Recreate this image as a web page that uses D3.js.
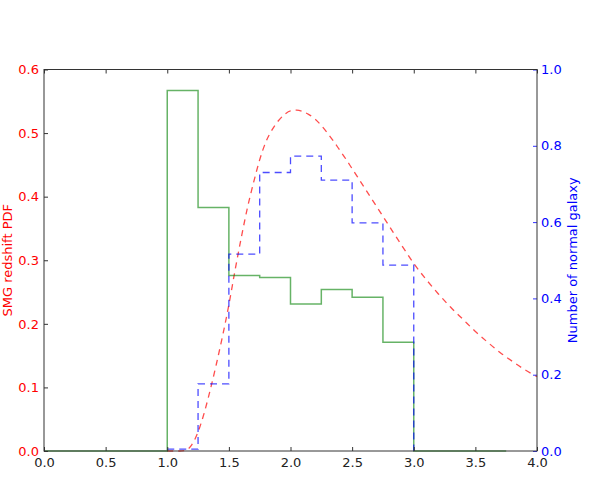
<!DOCTYPE html>
<html>
<head>
<meta charset="utf-8">
<script src="https://cdn.jsdelivr.net/npm/d3@7"></script>
<style>
  body { margin: 0; background: #fff; }
  text { font-family: "DejaVu Sans", sans-serif; }
</style>
</head>
<body>
<div id="chart"></div>
<script>
// SMG histogram (left axis), bin edges and heights
const smgEdges = [0, 0.25, 0.5, 0.75, 1.0, 1.25, 1.5, 1.75, 2.0, 2.25, 2.5, 2.75, 3.0, 3.25, 3.5, 3.75];
const smgHist  = [0, 0, 0, 0, 0.567, 0.383, 0.276, 0.273, 0.231, 0.254, 0.242, 0.171, 0, 0, 0];

// normal galaxy histogram (right axis)
const normEdges = [1.0, 1.25, 1.5, 1.75, 2.0, 2.25, 2.5, 2.75, 3.0];
const normHist  = [0.005, 0.176, 0.516, 0.730, 0.773, 0.710, 0.598, 0.487];

// SMG redshift PDF curve
const pdfZ   = [1.0, 1.1, 1.15, 1.2, 1.25, 1.3, 1.35, 1.4, 1.45, 1.5, 1.55, 1.6, 1.65, 1.7, 1.75, 1.8, 1.85, 1.9, 1.95,
                2.0, 2.05, 2.1, 2.15, 2.2, 2.25, 2.3, 2.35, 2.4, 2.45, 2.5, 2.6, 2.7, 2.8, 2.9,
                3.0, 3.1, 3.2, 3.3, 3.4, 3.5, 3.6, 3.7, 3.8, 3.9, 4.0];
const pdfVal = [0, 0, 0.001, 0.01, 0.03, 0.06, 0.097, 0.138, 0.182, 0.23, 0.284, 0.335, 0.382, 0.422, 0.458, 0.486, 0.505, 0.519, 0.529,
                0.535, 0.536, 0.534, 0.529, 0.522, 0.512, 0.5, 0.487, 0.473, 0.459, 0.444, 0.414, 0.384, 0.354, 0.324,
                0.295, 0.27, 0.247, 0.226, 0.207, 0.188, 0.171, 0.155, 0.141, 0.128, 0.117];

const xTicks  = [0, 0.5, 1.0, 1.5, 2.0, 2.5, 3.0, 3.5, 4.0];
const y0Ticks = [0, 0.1, 0.2, 0.3, 0.4, 0.5, 0.6];
const y1Ticks = [0, 0.2, 0.4, 0.6, 0.8, 1.0];

const margin = {top: 69.5, right: 59, bottom: 26, left: 44},
      width = 596 - margin.left - margin.right,
      height = 477 - margin.top - margin.bottom;

const x = d3.scaleLinear().domain([0, 4]).range([0, width]);
const y0 = d3.scaleLinear().domain([0, 0.6]).range([height, 0]);
const y1 = d3.scaleLinear().domain([0, 1]).range([height, 0]);

const svg = d3.select("#chart").append("svg")
    .attr("width", 596)
    .attr("height", 477)
  .append("g")
    .attr("transform", "translate(" + margin.left + "," + margin.top + ")");

// turn edges + heights into step points, closing down to zero at the end
function stepPoints(edges, hist) {
    const pts = hist.map((v, i) => [edges[i], v]);
    pts.push([edges[edges.length - 1], hist[hist.length - 1]]);
    pts.push([edges[edges.length - 1], 0]);
    return pts;
}

const stepLine0 = d3.line().x(d => x(d[0])).y(d => y0(d[1])).curve(d3.curveStepAfter);
const stepLine1 = d3.line().x(d => x(d[0])).y(d => y1(d[1])).curve(d3.curveStepAfter);

// red dashed pdf
const pdfLine = d3.line()
    .x((d, i) => x(pdfZ[i]))
    .y(d => y0(d))
    .curve(d3.curveMonotoneX);

svg.append("path")
    .datum(pdfVal)
    .attr("d", pdfLine)
    .attr("fill", "none")
    .attr("stroke", "#ff0000")
    .attr("stroke-opacity", 0.7)
    .attr("stroke-width", 1.3)
    .attr("stroke-dasharray", "6,5");

// green SMG histogram
svg.append("path")
    .datum(stepPoints(smgEdges, smgHist))
    .attr("d", stepLine0)
    .attr("fill", "none")
    .attr("stroke", "#008000")
    .attr("stroke-opacity", 0.6)
    .attr("stroke-width", 1.5);

// blue normal galaxy histogram
svg.append("path")
    .datum(stepPoints(normEdges, normHist))
    .attr("d", stepLine1)
    .attr("fill", "none")
    .attr("stroke", "#0000ff")
    .attr("stroke-opacity", 0.7)
    .attr("stroke-width", 1.3)
    .attr("stroke-dasharray", "7,5");

// axes, ticks pointing inward like matplotlib classic
const fmt = d3.format(".1f");

const gx = svg.append("g")
    .attr("transform", "translate(0," + height + ")")
    .call(d3.axisBottom(x).tickValues(xTicks).tickFormat(fmt).tickSizeInner(-4).tickSizeOuter(0).tickPadding(7));

const gxTop = svg.append("g")
    .call(d3.axisTop(x).tickValues(xTicks).tickFormat("").tickSizeInner(-4).tickSizeOuter(0));

const gy0 = svg.append("g")
    .call(d3.axisLeft(y0).tickValues(y0Ticks).tickFormat(fmt).tickSizeInner(-4).tickSizeOuter(0).tickPadding(5));

const gy1 = svg.append("g")
    .attr("transform", "translate(" + width + ",0)")
    .call(d3.axisRight(y1).tickValues(y1Ticks).tickFormat(fmt).tickSizeInner(-4).tickSizeOuter(0).tickPadding(4));

[gx, gxTop, gy0, gy1].forEach(g => {
    g.select(".domain").remove();
    g.selectAll("text").style("font-size", "13px").style("font-family", "DejaVu Sans");
    g.selectAll("line").attr("stroke", "#333");
});
gx.selectAll("text").attr("fill", "#222");
gy0.selectAll("text").attr("fill", "#ff0000");
gy1.selectAll("text").attr("fill", "#0000ff");
gy1.selectAll("line").attr("stroke", "#3333ff");

// frame
svg.append("rect")
    .attr("width", width)
    .attr("height", height)
    .attr("fill", "none")
    .attr("stroke", "#333")
    .attr("stroke-width", 1);

// axis titles
svg.append("text")
    .attr("transform", "translate(" + (11.5 - margin.left) + "," + (height / 2) + ") rotate(-90)")
    .attr("text-anchor", "middle")
    .style("font-size", "13px")
    .attr("fill", "#ff0000")
    .text("SMG redshift PDF");

svg.append("text")
    .attr("transform", "translate(" + (width + 39.5) + "," + (height / 2) + ") rotate(-90)")
    .attr("text-anchor", "middle")
    .style("font-size", "13px")
    .attr("fill", "#0000ff")
    .text("Number of normal galaxy");
</script>
</body>
</html>
